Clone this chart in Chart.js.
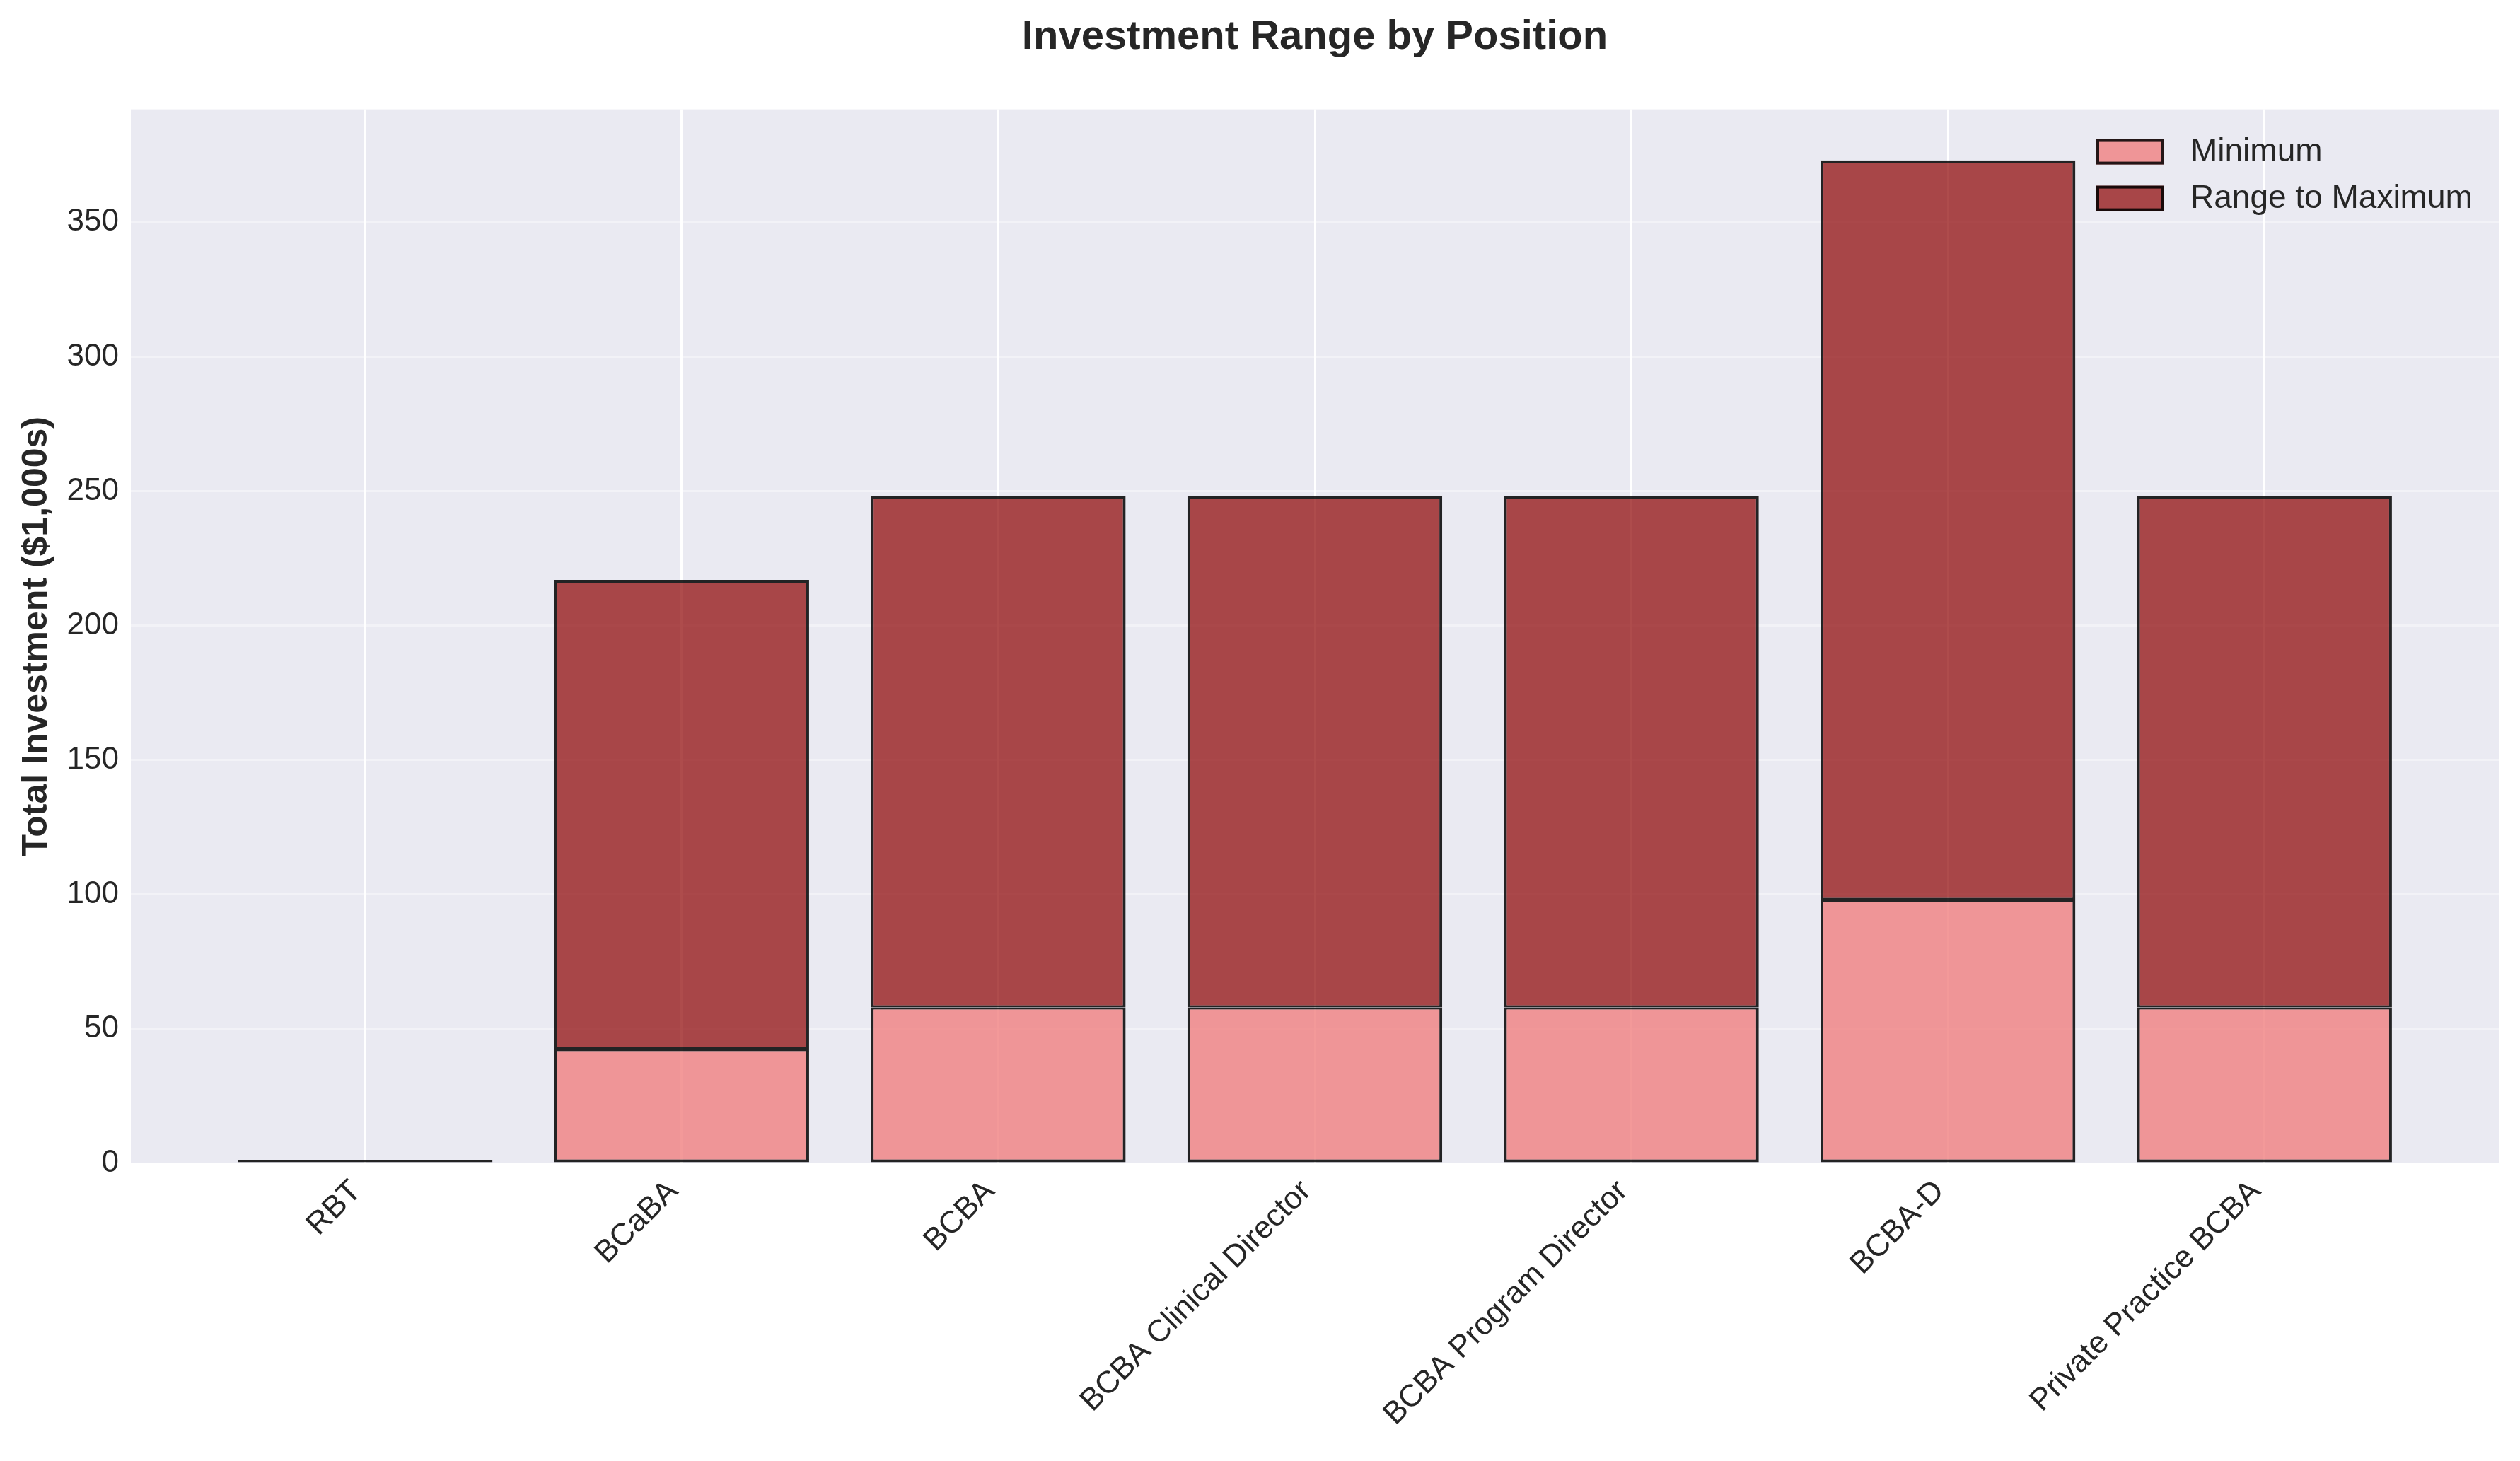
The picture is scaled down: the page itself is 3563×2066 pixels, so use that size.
<!DOCTYPE html>
<html>
<head>
<meta charset="utf-8">
<title>Investment Range by Position</title>
<script src="https://cdn.jsdelivr.net/npm/chart.js@4.4.1/dist/chart.umd.min.js"></script>
<style>
  html, body { margin: 0; padding: 0; background: #ffffff; }
  canvas { display: block; }
</style>
</head>
<body>
<canvas id="rangeChart" width="3563" height="2066"></canvas>
<script>
// positions on the x axis
var positions = ['RBT', 'BCaBA', 'BCBA', 'BCBA Clinical Director', 'BCBA Program Director', 'BCBA-D', 'Private Practice BCBA'];
// total investment in $1,000s
var minValues = [0.5, 42.5, 58, 58, 58, 98, 58];
var maxValues = [1.3, 217, 248, 248, 248, 373, 248];
var rangeValues = maxValues.map(function (v, i) { return v - minValues[i]; });
var yTicks = [0, 50, 100, 150, 200, 250, 300, 350];

var FONT = "'Liberation Sans', Arial, sans-serif";
var TEXT = '#262626';
var minColor = 'rgba(240, 128, 128, 0.8)';
var rangeColor = 'rgba(139, 0, 0, 0.7)';
var edgeColor = 'rgba(0, 0, 0, 0.85)';

function points(values) {
     return values.map(function (v, i) { return { x: i, y: v }; });
}

// grey plot background, seaborn style
var plotBackground = {
     id: 'plotBackground',
     beforeDraw: function (chart) {
          var a = chart.chartArea, ctx = chart.ctx;
          ctx.save();
          ctx.fillStyle = '#EAEAF2';
          ctx.fillRect(a.left, a.top, a.right - a.left, a.bottom - a.top);
          ctx.restore();
     }
};

// centre the title over the plot, not the canvas
var titleOverPlot = {
     id: 'titleOverPlot',
     afterLayout: function (chart) {
          if (chart.titleBlock) {
               chart.titleBlock.left = chart.chartArea.left;
               chart.titleBlock.right = chart.chartArea.right;
          }
     }
};

// legend inside the plot, upper right
var innerLegend = {
     id: 'innerLegend',
     afterDatasetsDraw: function (chart) {
          var a = chart.chartArea, ctx = chart.ctx;
          var x = a.right - 569, y = a.top + 42;
          var w = 95, h = 36, step = 66;
          ctx.save();
          ctx.font = '46px ' + FONT;
          ctx.textBaseline = 'middle';
          ctx.textAlign = 'left';
          chart.data.datasets.forEach(function (ds, i) {
               var top = y + i * step;
               ctx.fillStyle = ds.backgroundColor;
               ctx.fillRect(x, top, w, h);
               ctx.lineWidth = 4;
               ctx.strokeStyle = edgeColor;
               ctx.strokeRect(x + 2, top + 2, w - 4, h - 4);
               ctx.fillStyle = TEXT;
               ctx.fillText(ds.label, x + 133, top + h / 2 + 1);
          });
          ctx.restore();
     }
};

new Chart(document.getElementById('rangeChart'), {
     type: 'bar',
     data: {
          datasets: [
               {
                    label: 'Minimum',
                    data: points(minValues),
                    backgroundColor: minColor,
                    borderColor: edgeColor,
                    borderWidth: { top: 3, right: 4, bottom: 4, left: 4 },
                    borderSkipped: false,
                    barPercentage: 0.805,
                    categoryPercentage: 1
               },
               {
                    label: 'Range to Maximum',
                    data: points(rangeValues),
                    backgroundColor: rangeColor,
                    borderColor: edgeColor,
                    borderWidth: { top: 4, right: 4, bottom: 3, left: 4 },
                    borderSkipped: false,
                    barPercentage: 0.805,
                    categoryPercentage: 1
               }
          ]
     },
     options: {
          responsive: false,
          animation: false,
          devicePixelRatio: 1,
          layout: { padding: { left: 0, right: 30, top: 0, bottom: 0 } },
          plugins: {
               legend: { display: false },
               tooltip: { enabled: false },
               title: {
                    display: true,
                    text: 'Investment Range by Position',
                    color: TEXT,
                    font: { family: FONT, size: 58, weight: 'bold' },
                    padding: { top: 18, bottom: 67 }
               }
          },
          scales: {
               x: {
                    type: 'linear',
                    stacked: true,
                    offset: false,
                    min: -0.74,
                    max: 6.74,
                    afterBuildTicks: function (scale) {
                         scale.ticks = positions.map(function (p, i) { return { value: i }; });
                    },
                    afterFit: function (scale) { scale.height = 421; },
                    border: { display: false },
                    grid: { color: '#ffffff', lineWidth: 3, drawTicks: false, offset: false },
                    ticks: {
                         color: TEXT,
                         font: { family: FONT, size: 44 },
                         minRotation: 45,
                         maxRotation: 45,
                         padding: 14,
                         labelOffset: -12,
                         autoSkip: false,
                         callback: function (value) { return positions[value]; }
                    }
               },
               y: {
                    stacked: true,
                    min: 0,
                    max: 392,
                    afterBuildTicks: function (scale) {
                         scale.ticks = yTicks.map(function (v) { return { value: v }; });
                    },
                    afterFit: function (scale) { scale.width = 185; },
                    border: { display: false },
                    grid: { color: 'rgba(255, 255, 255, 0.4)', lineWidth: 3, drawTicks: false },
                    ticks: {
                         color: TEXT,
                         font: { family: FONT, size: 44 },
                         padding: 17
                    },
                    title: {
                         display: true,
                         text: 'Total Investment ($1,000s)',
                         color: TEXT,
                         font: { family: FONT, size: 50, weight: 'bold' },
                         padding: { top: 22, bottom: 0 }
                    }
               }
          }
     },
     plugins: [plotBackground, titleOverPlot, innerLegend]
});
</script>
</body>
</html>
